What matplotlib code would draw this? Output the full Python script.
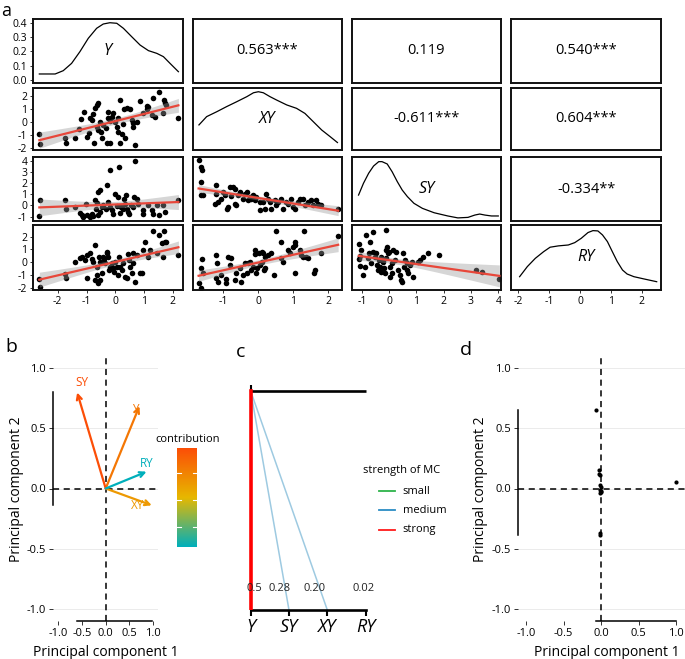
import numpy as np
import matplotlib
matplotlib.use('Agg')
import matplotlib.pyplot as plt
from matplotlib.colors import LinearSegmentedColormap, Normalize

plt.rcParams['font.family'] = ['Open Sans', 'DejaVu Sans']
plt.rcParams['axes.unicode_minus'] = False

W, H = 685, 659

# ------------------------------------------------------------------ data
variables = ['Y', 'XY', 'SY', 'RY']
corr_text = ['0.563***', '0.119', '0.540***', '-0.611***', '0.604***', '-0.334**']
corr_cells = [(0, 1), (0, 2), (0, 3), (1, 2), (1, 3), (2, 3)]

# diagonal densities (value axis, density)
dens_Y_x = [-2.64, -2.09, -1.81, -1.52, -1.23, -0.94, -0.65, -0.42, -0.19, 0.05, 0.28, 0.57, 0.86, 1.15,
            1.44, 1.67, 1.90, 2.19]
dens_Y_d = [0.042, 0.042, 0.065, 0.116, 0.198, 0.291, 0.361, 0.391, 0.400, 0.396, 0.361, 0.302, 0.244, 0.205,
            0.186, 0.163, 0.116, 0.058]
dens_XY_x = [-1.69, -1.47, -1.18, -0.90, -0.61, -0.32, -0.13, 0.01, 0.15, 0.34, 0.53, 0.82, 1.10, 1.34,
             1.58, 1.82, 2.06, 2.27]
dens_XY_d = [0.130, 0.179, 0.208, 0.238, 0.267, 0.297, 0.320, 0.326, 0.320, 0.297, 0.277, 0.248, 0.228, 0.198,
             0.149, 0.100, 0.061, 0.026]
dens_SY_x = [-1.12, -0.94, -0.75, -0.57, -0.38, -0.26, -0.07, 0.11, 0.30, 0.48, 0.67, 0.91, 1.22, 1.65, 2.15,
             2.52, 2.89, 3.14, 3.32, 3.51, 3.75, 4.0]
dens_SY_d = [0.178, 0.269, 0.347, 0.403, 0.437, 0.437, 0.419, 0.359, 0.282, 0.217, 0.166, 0.114, 0.075, 0.041,
             0.016, 0.001, 0.005, 0.023, 0.031, 0.023, 0.016, 0.016]
dens_RY_x = [-1.96, -1.71, -1.45, -1.18, -0.97, -0.70, -0.38, -0.17, 0.04, 0.26, 0.42, 0.58, 0.73, 0.89, 1.05,
             1.21, 1.38, 1.53, 1.75, 2.07, 2.49]
dens_RY_d = [0.069, 0.137, 0.193, 0.238, 0.268, 0.277, 0.283, 0.299, 0.328, 0.367, 0.380, 0.378, 0.351, 0.306,
             0.238, 0.171, 0.114, 0.087, 0.069, 0.054, 0.035]

# scatter panels (x variable, y variable)
Y_XY_x = [-2.64, -2.62, -1.75, -1.72, -1.40, -1.25, -1.19, -1.09, -0.97, -0.90, -0.88, -0.82, -0.76, -0.71, -0.65,
          -0.61, -0.73, -0.65, -0.59, -0.53, -0.50, -0.45, -0.42, -0.32, -0.24, -0.24, -0.19, -0.13, -0.07, -0.30,
          -0.19, -0.01, 0.05, 0.10, 0.10, 0.16, 0.16, 0.22, 0.28, 0.30, 0.34, 0.39, 0.51, 0.57, 0.60, 0.63, 0.68,
          0.74, 0.86, 0.95, 1.09, 1.09, 1.15, 1.26, 1.32, 1.38, 1.53, 1.67, 1.70, 1.72, 1.75, 2.19]
Y_XY_y = [-0.99, -1.71, -1.29, -1.68, -1.24, -0.60, 0.17, 0.71, -1.17, -0.86, 0.29, 0.12, 0.55, 1.01, 1.27,
          1.40, -1.68, -0.40, -0.65, -0.06, -0.78, -1.24, -0.27, -0.53, 0.24, 0.71, 0.04, 0.37, 0.63, -1.68,
          -1.68, -0.01, -0.40, 0.24, -0.78, 1.65, -1.68, -0.99, -0.22, 0.96, -1.29, 1.01, 0.96, 0.12, -0.14, -0.40, -1.81,
          -0.01, 1.58, 0.63, 0.96, 1.22, 1.14, 0.50, 1.78, 0.37, 2.29, 0.63, 1.65, 1.40, 1.27, 0.24]

Y_SY_x = [-2.64, -2.62, -1.75, -1.72, -1.40, -1.23, -1.17, -1.11, -1.02, -0.97, -0.88, -0.82, -0.76, -0.71, -0.67,
          -0.65, -0.61, -0.59, -0.53, -0.53, -0.47, -0.42, -0.32, -0.28, -0.24, -0.19, -0.19, -0.13, -0.07, -0.01,
          0.05, 0.10, 0.14, 0.16, 0.19, 0.25, 0.30, 0.34, 0.37, 0.39, 0.45, 0.49, 0.53, 0.63, 0.66, 0.68, 0.74,
          0.80, 0.95, 0.97, 1.15, 1.26, 1.32, 1.44, 1.53, 1.67, 1.72, 2.19]
Y_SY_y = [-0.98, 0.47, 0.47, -0.35, -0.14, -0.68, -0.89, -1.04, 0.17, -0.89, -1.04, -0.74, -0.98, 0.47, -0.29,
          0.26, -0.89, 1.22, 1.43, -0.59, -0.14, 0.02, -0.29, 1.82, 0.32, 3.17, -0.14, -0.44, -0.74, 1.07,
          -0.05, 0.77, 3.47, -0.65, -0.14, -0.35, 0.62, 0.17, 0.92, -0.29, -0.59, -0.74, 0.02, -0.14, 0.77, 3.98, 0.62,
          0.17, -0.44, -0.74, 0.02, -0.44, -0.74, 0.02, -0.89, 0.02, -0.59, 0.53]

XY_SY_x = [-1.70, -1.62, -1.60, -1.62, -1.62, -1.57, -1.19, -1.19, -1.24, -1.14, -1.05, -1.00, -0.95, -0.90, -0.86,
           -0.81, -0.78, -0.71, -0.67, -0.67, -0.62, -0.57, -0.52, -0.43, -0.38, -0.33, -0.29, -0.24, -0.19, -0.14,
           -0.10, -0.05, 0.05, 0.05, 0.14, 0.19, 0.24, 0.29, 0.33, 0.38, 0.48, 0.52, 0.57, 0.67, 0.71, 0.81, 0.86,
           0.95, 1.00, 1.05, 1.14, 1.19, 1.29, 1.33, 1.43, 1.52, 1.57, 1.67, 1.71, 1.81, 2.29]
XY_SY_y = [4.07, 3.47, 3.17, 2.12, 0.98, 0.92, 1.82, 1.07, 0.17, 0.32, 0.62, 1.22, 0.92, -0.29, -0.14,
           1.67, 0.86, 1.67, 1.52, 0.17, 0.02, 0.92, 1.22, 0.62, 1.07, 1.22, 0.47, 0.77, 0.62, 0.92,
           0.47, 0.77, 0.32, -0.44, 0.32, -0.29, 1.07, 0.62, 0.32, -0.29, 0.47, 0.02, 0.32, 0.62, -0.29, 0.32, 0.17,
           0.62, -0.14, -0.29, 0.32, 0.62, 0.62, 0.02, 0.32, 0.47, 0.02, 0.47, 0.17, 0.02, -0.29]

Y_RY_x = [-2.64, -2.62, -1.75, -1.72, -1.40, -1.23, -1.17, -1.05, -0.99, -0.97, -0.88, -0.82, -0.76, -0.71, -0.71,
          -0.65, -0.63, -0.59, -0.56, -0.53, -0.53, -0.47, -0.44, -0.39, -0.36, -0.30, -0.28, -0.24, -0.21, -0.19,
          -0.13, -0.07, -0.05, -0.01, 0.05, 0.10, 0.14, 0.16, 0.22, 0.28, 0.34, 0.39, 0.45, 0.49, 0.51, 0.57, 0.60,
          0.63, 0.68, 0.74, 0.86, 0.91, 0.97, 1.03, 1.15, 1.20, 1.32, 1.44, 1.53, 1.61, 1.67, 1.69, 1.72, 1.76, 2.19]
Y_RY_y = [-1.33, -1.90, -0.94, -1.25, 0.00, 0.31, 0.44, 0.18, 0.57, -1.25, 0.70, 0.23, 0.05, 1.35, -1.38,
          -0.34, -0.99, -1.64, 0.44, 0.05, -1.38, -0.86, 0.44, 0.23, -0.08, 0.70, 0.83, 0.44, -0.60, -0.34,
          -0.08, -0.47, -0.72, 0.05, -0.34, -0.99, 0.44, -0.34, -0.60, -0.08, -1.12, -1.25, 0.65, 0.18, -0.34, -0.86, -0.08,
          0.70, -1.51, 0.57, -0.86, -0.81, 0.96, 1.61, 0.44, 0.96, 2.46, 0.70, 2.12, 1.48, 0.44, 2.44, 1.61, 1.61, 0.57]

XY_RY_x = [-1.70, -1.64, -1.62, -1.60, -1.57, -1.19, -1.16, -1.19, -1.14, -1.05, -0.93, -0.93, -0.86, -0.81, -0.76,
           -0.67, -0.62, -0.52, -0.48, -0.43, -0.38, -0.33, -0.30, -0.24, -0.19, -0.14, -0.10, -0.10, -0.05, -0.02,
           0.02, 0.05, 0.10, 0.11, 0.14, 0.17, 0.19, 0.21, 0.29, 0.38, 0.46, 0.50, 0.67, 0.67, 0.71, 0.86, 0.90,
           1.00, 1.05, 1.05, 1.07, 1.19, 1.24, 1.29, 1.31, 1.38, 1.43, 1.60, 1.64, 1.79, 2.29]
XY_RY_y = [-1.64, -2.03, -0.47, 0.23, -0.86, 0.57, -0.03, -1.25, -1.51, -0.99, -1.33, -1.64, 0.44, -0.21, 0.31,
           -1.38, -0.86, -0.47, -1.51, -0.99, -0.08, -0.86, -0.03, 0.05, -0.60, -0.34, 0.62, 0.96, -0.86, -0.47,
           0.70, -0.21, 0.05, 0.83, 0.70, -0.60, 0.44, -0.47, 0.57, 0.70, -0.99, 2.44, 1.61, 0.31, 0.05, 0.96, 0.70,
           1.22, 1.35, -0.86, 1.61, 0.96, 0.57, 0.44, 2.44, 0.44, 0.31, -0.86, -0.60, 0.70, 2.05]

SY_RY_x = [-1.11, -1.02, -1.06, -1.09, -1.06, -0.96, -0.90, -0.84, -0.78, -0.72, -0.69, -0.65, -0.59, -0.59, -0.53,
           -0.47, -0.44, -0.41, -0.37, -0.35, -0.28, -0.28, -0.22, -0.20, -0.16, -0.12, -0.10, -0.10, -0.07, -0.04,
           0.00, 0.02, 0.05, 0.09, 0.12, 0.15, 0.21, 0.27, 0.33, 0.40, 0.42, 0.46, 0.52, 0.54, 0.58, 0.64, 0.67,
           0.70, 0.77, 0.83, 0.89, 1.07, 1.14, 1.26, 1.44, 1.81, 3.17, 3.42, 4.04]
SY_RY_y = [1.42, 0.96, 0.49, 0.23, -0.29, -0.99, -0.34, 2.12, 0.31, 0.70, 1.61, -0.08, 2.38, 0.83, 0.39,
           0.70, -0.21, -0.60, 0.18, -0.34, 0.44, -0.73, 0.05, -0.47, -0.86, 0.96, 2.51, 0.31, 1.22, 0.70,
           0.83, -0.34, -1.12, -0.08, -0.86, 0.96, 0.18, 0.83, -0.60, -0.99, -1.38, -1.51, 0.70, -0.34, 0.18, -0.08, -0.60,
           -0.86, -0.21, 0.05, -1.12, 0.05, 0.18, 0.44, 0.70, 0.57, -0.60, -0.73, -1.33]

# panel b: PCA variable loadings and contributions
pca_vars = ['Y', 'XY', 'SY', 'RY']
pca_pc1 = [0.71, 0.97, -0.60, 0.86]
pca_pc2 = [0.686, -0.14, 0.80, 0.14]
pca_contrib = [32.0, 26.2, 39.1, 2.7]
contrib_ticks = [10, 20, 30]

# panel c: strength of multicollinearity
mc_vars = ['Y', 'SY', 'XY', 'RY']
mc_values = ['0.5', '0.28', '0.20', '0.02']
mc_strength = ['strong', 'medium', 'medium', 'none']

# panel d: PCA individuals
ind_pc1 = [-0.07, -0.03, -0.03, -0.02, -0.01, 0.0, -0.01, 0.0, 0.0, -0.01, -0.02, -0.02, 1.0]
ind_pc2 = [0.65, 0.15, 0.12, 0.11, 0.03, 0.01, -0.01, -0.02, -0.03, -0.04, -0.37, -0.39, 0.05]

# ------------------------------------------------------------------ helpers
fig = plt.figure(figsize=(W / 100, H / 100), dpi=100)


def box(x0, x1, y0, y1):
    return [x0 / W, 1 - y1 / H, (x1 - x0) / W, (y1 - y0) / H]


def fit_band(x, y):
    x = np.asarray(x, float)
    y = np.asarray(y, float)
    b1, b0 = np.polyfit(x, y, 1)
    n = len(x)
    s = np.sqrt(np.sum((y - (b0 + b1 * x)) ** 2) / (n - 2))
    xg = np.linspace(x.min(), x.max(), 100)
    se = s * np.sqrt(1 / n + (xg - x.mean()) ** 2 / np.sum((x - x.mean()) ** 2))
    yh = b0 + b1 * xg
    return xg, yh, yh - 2.0 * se, yh + 2.0 * se


# ------------------------------------------------------------------ panel a
col_px = [(33, 183), (193, 342), (352, 501), (511, 661)]
row_px = [(19, 83), (88, 150), (157, 221), (225, 290)]
xlims = [(-2.86, 2.35), (-1.86, 2.4), (-1.36, 4.1), (-2.24, 2.63)]
off_ylims = [None, (-2.19, 2.58), (-1.40, 4.37), (-2.16, 2.90)]
diag_ylims = [(-0.021, 0.426), (-0.018, 0.348), (-0.023, 0.473), (-0.021, 0.418)]
xticks_a = [[-2, -1, 0, 1, 2], [-1, 0, 1, 2], [-1, 0, 1, 2, 3, 4], [-2, -1, 0, 1, 2]]
yticks_a = [[0.0, 0.1, 0.2, 0.3, 0.4], [-2, -1, 0, 1, 2], [-1, 0, 1, 2, 3, 4], [-2, -1, 0, 1, 2]]

dens = {0: (dens_Y_x, dens_Y_d), 1: (dens_XY_x, dens_XY_d), 2: (dens_SY_x, dens_SY_d), 3: (dens_RY_x, dens_RY_d)}
scat = {(1, 0): (Y_XY_x, Y_XY_y), (2, 0): (Y_SY_x, Y_SY_y), (2, 1): (XY_SY_x, XY_SY_y),
        (3, 0): (Y_RY_x, Y_RY_y), (3, 1): (XY_RY_x, XY_RY_y), (3, 2): (SY_RY_x, SY_RY_y)}

for i in range(4):
    for j in range(4):
        x0, x1 = col_px[j]
        y0, y1 = row_px[i]
        ax = fig.add_axes(box(x0, x1, y0, y1))
        for sp in ax.spines.values():
            sp.set_linewidth(1.4)
            sp.set_color('#111111')
        if i == j:
            dx, dd = dens[i]
            ax.plot(dx, dd, color='black', lw=0.9, solid_joinstyle='round')
            ax.set_xlim(*xlims[j])
            ax.set_ylim(*diag_ylims[i])
            ax.text(0.5, 0.5, variables[i], transform=ax.transAxes, ha='center', va='center',
                    fontsize=11.5, style='italic')
        elif i < j:
            ax.set_xlim(0, 1)
            ax.set_ylim(0, 1)
            k = corr_cells.index((i, j))
            ax.text(0.5, 0.5, corr_text[k], transform=ax.transAxes, ha='center', va='center', fontsize=10.5)
        else:
            sx, sy = scat[(i, j)]
            ax.scatter(sx, sy, s=16, color='black', linewidths=0, zorder=2)
            xg, yh, lo, hi = fit_band(sx, sy)
            ax.fill_between(xg, lo, hi, color='#999999', alpha=0.4, linewidth=0, zorder=3)
            ax.plot(xg, yh, color='#E8473A', lw=1.6, zorder=4)
            ax.set_xlim(*xlims[j])
            ax.set_ylim(*off_ylims[i])
        ax.tick_params(length=2.5, width=0.7, pad=1.5, labelsize=7.5, color='#333333')
        if j == 0:
            ax.set_yticks(yticks_a[i])
            if i == 0:
                ax.set_yticklabels(['%.1f' % v for v in yticks_a[i]])
        else:
            ax.set_yticks([])
        if i == 3:
            ax.set_xticks(xticks_a[j])
        else:
            ax.set_xticks([])

fig.text(1 / W, 1 - 16 / H, 'a', fontsize=13, ha='left', va='baseline')

# ------------------------------------------------------------------ panel b
cmap = LinearSegmentedColormap.from_list('contrib', ['#00AFBB', '#E7B800', '#FC4E07'])
norm = Normalize(min(pca_contrib), max(pca_contrib))

axb = fig.add_axes(box(53, 158, 356, 621))
axb.set_xlim(-1.109, 1.101)
axb.set_ylim(-1.104, 1.104)
for yv in [-1.0, -0.5, 0.0, 0.5, 1.0]:
    axb.axhline(yv, color='#EBEBEB', lw=0.7, zorder=0)
axb.axhline(0, color='black', lw=1.1, ls=(0, (4, 3)), zorder=1)
axb.axvline(0, color='black', lw=1.1, ls=(0, (4, 3)), zorder=1)
lab_off = {'Y': (-0.08, -0.03), 'XY': (-0.30, 0.0), 'SY': (0.09, 0.08), 'RY': (0.0, 0.07)}
for v, px_, py_, c in zip(pca_vars, pca_pc1, pca_pc2, pca_contrib):
    col = cmap(norm(c))
    axb.text(px_ + lab_off[v][0], py_ + lab_off[v][1], v, color=col, fontsize=8.5, ha='center', va='center',
             zorder=2)
    axb.annotate('', xy=(px_, py_), xytext=(0, 0),
                 arrowprops=dict(arrowstyle='->', color=col, lw=1.6, mutation_scale=9,
                                 shrinkA=0, shrinkB=0), zorder=3)
for side in ['top', 'right']:
    axb.spines[side].set_visible(False)
axb.spines['left'].set_bounds(min(pca_pc2), max(pca_pc2))
axb.spines['bottom'].set_bounds(min(pca_pc1), max(pca_pc1))
for side in ['left', 'bottom']:
    axb.spines[side].set_linewidth(1.1)
axb.set_xticks([-1.0, -0.5, 0.0, 0.5, 1.0])
axb.set_yticks([-1.0, -0.5, 0.0, 0.5, 1.0])
axb.set_xticklabels(['-1.0', '-0.5', '0.0', '0.5', '1.0'])
axb.set_yticklabels(['-1.0', '-0.5', '0.0', '0.5', '1.0'])
axb.tick_params(length=3, width=0.7, pad=2, labelsize=8, color='#333333')
fig.text(17 / W, 1 - 489 / H, 'Principal component 2', rotation=90, ha='center', va='center', fontsize=10)
fig.text(106 / W, 1 - 652 / H, 'Principal component 1', ha='center', va='center', fontsize=10)

cax = fig.add_axes(box(176.7, 196.7, 448.3, 546.7))
grad = np.linspace(min(pca_contrib), max(pca_contrib), 200).reshape(-1, 1)
cax.imshow(grad, aspect='auto', cmap=cmap, norm=norm, origin='lower',
           extent=[0, 1, min(pca_contrib), max(pca_contrib)])
for t in contrib_ticks:
    cax.plot([0, 0.2], [t, t], color='white', lw=0.8)
    cax.plot([0.8, 1], [t, t], color='white', lw=0.8)
cax.set_xlim(0, 1)
cax.set_ylim(min(pca_contrib), max(pca_contrib))
cax.set_xticks([])
cax.set_yticks([])
for sp in cax.spines.values():
    sp.set_visible(False)
fig.text(187.5 / W, 1 - 440 / H, 'contribution', ha='center', va='center', fontsize=8)
fig.text(5 / W, 1 - 352 / H, 'b', fontsize=14, ha='left', va='baseline')

# ------------------------------------------------------------------ panel c
axc = fig.add_axes(box(243.0, 373.3, 385, 610))
axc.set_xlim(-0.2, 3.2)
axc.set_ylim(0, 1.0274)
xs = np.arange(len(mc_vars))
axc.plot([xs[0], xs[-1]], [1, 1], color='black', lw=1.9, solid_capstyle='butt')
axc.plot([xs[0], xs[0]], [1, 1.025], color='black', lw=1.5)
mc_colors = {'small': '#2DB34A', 'medium': '#2B8CC4', 'strong': '#FF1A1A'}
for k, (xv, st) in enumerate(zip(xs, mc_strength)):
    if st == 'strong':
        axc.plot([xv, xv], [0, 1], color='#FF0000', lw=2.6, zorder=3)
    elif st == 'medium':
        axc.plot([xs[0], xv], [1, 0], color='#9ECAE1', lw=1.1, zorder=2)
    elif st == 'small':
        axc.plot([xs[0], xv], [1, 0], color=mc_colors['small'], lw=1.1, zorder=2)
val_x = [0.09, 0.76, 1.68, 2.94]
for xv, t in zip(val_x, mc_values):
    axc.text(xv, 0.10, t, ha='center', va='center', fontsize=8, color='#222222', zorder=4)
for side in ['top', 'right', 'left']:
    axc.spines[side].set_visible(False)
axc.spines['bottom'].set_bounds(xs[0], xs[-1])
axc.spines['bottom'].set_linewidth(1.9)
axc.set_yticks([])
axc.set_xticks(xs)
axc.set_xticklabels(mc_vars, fontsize=13, style='italic')
axc.tick_params(axis='x', length=4, width=1.5, pad=2, color='black')

fig.text(363.3 / W, 1 - 471 / H, 'strength of MC', ha='left', va='center', fontsize=8)
for k, name in enumerate(['small', 'medium', 'strong']):
    yy = 1 - (491 + 19.4 * k) / H
    fig.add_artist(plt.Line2D([379.3 / W, 395 / W], [yy, yy], color=mc_colors[name], lw=1.3,
                              transform=fig.transFigure))
    fig.text(402.7 / W, yy, name, ha='left', va='center', fontsize=8)
fig.text(236 / W, 1 - 357 / H, 'c', fontsize=14, ha='left', va='baseline')

# ------------------------------------------------------------------ panel d
axd = fig.add_axes(box(518, 685, 356, 621))
axd.set_xlim(-1.107, 1.12)
axd.set_ylim(-1.104, 1.104)
for yv in [-1.0, -0.5, 0.0, 0.5, 1.0]:
    axd.axhline(yv, color='#EBEBEB', lw=0.7, zorder=0)
axd.axhline(0, color='black', lw=1.1, ls=(0, (4, 3)), zorder=1)
axd.axvline(0, color='black', lw=1.1, ls=(0, (4, 3)), zorder=1)
axd.scatter(ind_pc1, ind_pc2, s=9, color='black', linewidths=0, zorder=3)
for side in ['top', 'right']:
    axd.spines[side].set_visible(False)
axd.spines['left'].set_bounds(min(ind_pc2), max(ind_pc2))
axd.spines['bottom'].set_bounds(min(ind_pc1), max(ind_pc1))
for side in ['left', 'bottom']:
    axd.spines[side].set_linewidth(1.1)
axd.set_xticks([-1.0, -0.5, 0.0, 0.5, 1.0])
axd.set_yticks([-1.0, -0.5, 0.0, 0.5, 1.0])
axd.set_xticklabels(['-1.0', '-0.5', '0.0', '0.5', '1.0'])
axd.set_yticklabels(['-1.0', '-0.5', '0.0', '0.5', '1.0'])
axd.tick_params(length=3, width=0.7, pad=2, labelsize=8, color='#333333')
fig.text(481 / W, 1 - 489 / H, 'Principal component 2', rotation=90, ha='center', va='center', fontsize=10)
fig.text(607 / W, 1 - 652 / H, 'Principal component 1', ha='center', va='center', fontsize=10)
fig.text(460 / W, 1 - 355 / H, 'd', fontsize=14, ha='left', va='baseline')

fig.savefig('out.png', dpi=100)
